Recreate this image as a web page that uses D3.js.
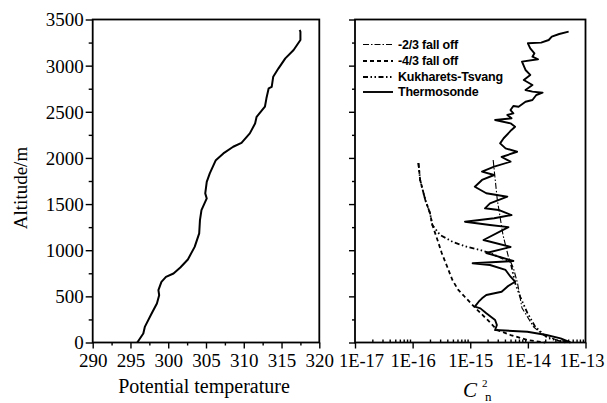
<!DOCTYPE html>
<html><head><meta charset="utf-8">
<script src="https://cdn.jsdelivr.net/npm/d3@7"></script>
<style>body{margin:0;background:#fff}svg{display:block}</style>
</head><body><svg id="c" width="607" height="403"></svg>
<script>
// ---------- DATA ----------
// Left panel: potential temperature (K) vs altitude (m)
const thetaValues = [295.9,296.7,296.9,297.8,298.5,298.8,298.7,299.1,299.7,300.7,301.6,302.6,303.5,304.1,304.2,304.4,305.1,304.9,305.1,305.5,306.3,307.3,308.6,309.7,310.8,311.5,311.7,312.8,313.0,313.3,313.7,313.9,314.6,315.5,316.6,317.5,317.5,317.4];
const thetaAlts   = [0,97,169,314,423,513,567,657,711,748,813,900,1036,1182,1326,1434,1561,1616,1741,1832,1976,2049,2121,2164,2266,2374,2446,2555,2646,2754,2771,2880,2971,3079,3169,3278,3368,3386];

// Right panel: Cn^2 profiles
const sondeCn2 = [5.1e-14,3.5e-14,2.6e-14,2.3e-14,1.7e-14,1.0e-14,1.1e-14,1.3e-14,1.2e-14,1.5e-14,7.9e-15,9.1e-15,1.1e-14,8.5e-15,1.2e-14,9.1e-15,1.2e-14,1.8e-14,1.4e-14,1.2e-14,9.1e-15,6.9e-15,5.6e-15,5.0e-15,5.6e-15,4.4e-15,5.2e-15,2.7e-15,5.0e-15,6.0e-15,5.2e-15,3.8e-15,3.3e-15,4.1e-15,6.5e-15,3.5e-15,5.0e-15,2.6e-15,1.6e-15,2.6e-15,1.6e-15,1.2e-15,1.9e-15,4.4e-15,2.2e-15,1.8e-15,3.1e-15,5.2e-15,2.6e-15,8.1e-16,2.2e-15,4.6e-15,1.7e-15,5.0e-15,1.9e-15,5.6e-15,1.1e-15,2.2e-15,4.1e-15,5.0e-15,6.0e-15,4.4e-15,3.5e-15,1.9e-15,1.6e-15,1.4e-15,1.2e-15,1.5e-15,1.9e-15,2.7e-15,2.9e-15,2.7e-15,9.8e-15,2.1e-14,3.7e-14,5.5e-14];
const sondeAlts = [3368,3343,3314,3278,3249,3242,3188,3134,3097,3069,3043,2953,2899,2844,2790,2736,2718,2707,2682,2628,2609,2555,2563,2519,2483,2465,2429,2411,2375,2338,2303,2213,2158,2104,2067,2010,1959,1905,1851,1815,1761,1688,1617,1580,1508,1454,1436,1381,1346,1309,1273,1250,1111,1035,970,883,858,840,786,713,659,605,550,515,479,442,388,370,316,244,190,135,117,81,45,0];

const fall23Cn2  = [2.5e-15,2.95e-15,3.7e-15,4.6e-15,5.6e-15,6.6e-15,7.9e-15,1.26e-14,1.86e-14,3.2e-14,5.5e-14];
const fall23Alts = [1977,1544,1165,926,807,645,374,168,81,27,0];

const fall43Cn2  = [1.26e-16,1.35e-16,1.66e-16,2.0e-16,2.2e-16,2.7e-16,3.2e-16,4.0e-16,4.9e-16,6.2e-16,8.1e-16,1.23e-15,2.0e-15,2.95e-15,5.0e-15,9.8e-15,2.0e-14];
const fall43Alts = [1945,1761,1544,1403,1273,1111,970,818,677,569,493,374,244,135,81,27,0];

const ktCn2  = [1.26e-16,1.35e-16,1.66e-16,2.0e-16,2.2e-16,3.0e-16,5.0e-16,8.9e-16,1.48e-15,2.2e-15,5.0e-15,6.0e-15,7.4e-15,9.8e-15,1.35e-14,2.2e-14,4.5e-14];
const ktAlts = [1945,1761,1544,1403,1273,1165,1089,1035,1002,970,872,645,493,320,168,49,0];

const thetaTicks = [290,295,300,305,310,315,320];
const altTicks = [0,500,1000,1500,2000,2500,3000,3500];
const cn2Ticks = [1e-17,1e-16,1e-15,1e-14,1e-13];
const legendLabels = ["-2/3 fall off","-4/3 fall off","Kukharets-Tsvang","Thermosonde"];

// ---------- DRAW ----------
const svg = d3.select("#c");
svg.append("rect").attr("width",607).attr("height",403).attr("fill","#fff");
const serif = "'Liberation Serif','Times New Roman',serif";

const yScale = d3.scaleLinear().domain([0,3500]).range([342.5,19.5]);
const xL = d3.scaleLinear().domain([290,320]).range([92.7,319.3]);
const xR = d3.scaleLog().domain([1e-17,1e-13]).range([355,585.5]);

function styleAxis(g, fs){
  g.select(".domain").remove();
  g.selectAll(".tick line").attr("stroke","#000").attr("stroke-width",1.4);
  g.selectAll("text").attr("font-family",serif).attr("font-size",fs).attr("fill","#000");
}

// Left panel axes
const gLy = svg.append("g").attr("transform","translate(92.7,0)")
  .call(d3.axisLeft(yScale).tickValues(altTicks).tickSize(7).tickPadding(2).tickFormat(d3.format("d")));
styleAxis(gLy,19);
gLy.selectAll("text").attr("dy","0.34em");
const gLym = svg.append("g").attr("transform","translate(92.7,0)")
  .call(d3.axisLeft(yScale).tickValues(d3.range(250,3500,500)).tickSize(4).tickFormat(""));
styleAxis(gLym,19);

const gLx = svg.append("g").attr("transform","translate(0,342.5)")
  .call(d3.axisBottom(xL).tickValues(thetaTicks).tickSize(6).tickPadding(5).tickFormat(d3.format("d")));
styleAxis(gLx,19);
const gLxm = svg.append("g").attr("transform","translate(0,342.5)")
  .call(d3.axisBottom(xL).tickValues(d3.range(292.5,320,5)).tickSize(3).tickFormat(""));
styleAxis(gLxm,19);

svg.append("rect").attr("x",92.7).attr("y",19.5).attr("width",319.3-92.7).attr("height",323)
  .attr("fill","none").attr("stroke","#000").attr("stroke-width",1.8);

svg.append("path")
  .datum(d3.zip(thetaValues,thetaAlts))
  .attr("fill","none").attr("stroke","#000").attr("stroke-width",2).attr("stroke-linejoin","round")
  .attr("d", d3.line().x(d=>xL(d[0])).y(d=>yScale(d[1])));

// Right panel axes
const gRy = svg.append("g").attr("transform","translate(355,0)")
  .call(d3.axisLeft(yScale).tickValues(altTicks).tickSize(6).tickFormat(""));
styleAxis(gRy,19);
const gRym = svg.append("g").attr("transform","translate(355,0)")
  .call(d3.axisLeft(yScale).tickValues(d3.range(250,3500,500)).tickSize(3).tickFormat(""));
styleAxis(gRym,19);

const gRx = svg.append("g").attr("transform","translate(0,342.5)")
  .call(d3.axisBottom(xR).tickValues(cn2Ticks).tickSize(6).tickPadding(5)
    .tickFormat(d => "1E" + Math.round(Math.log10(d))));
styleAxis(gRx,18.5);
gRx.selectAll("text").filter((d,i)=>i===0).attr("dx",6);
gRx.selectAll("text").filter((d,i)=>i===4).attr("dx",-4);
const minorLog = xR.ticks().filter(v => Math.abs(Math.log10(v)-Math.round(Math.log10(v)))>1e-6);
const gRxm = svg.append("g").attr("transform","translate(0,342.5)")
  .call(d3.axisBottom(xR).tickValues(minorLog).tickSize(-3).tickFormat(""));
styleAxis(gRxm,18);

svg.append("rect").attr("x",355).attr("y",19.5).attr("width",585.5-355).attr("height",323)
  .attr("fill","none").attr("stroke","#000").attr("stroke-width",1.8);

const lineR = d3.line().x(d=>xR(d[0])).y(d=>yScale(d[1]));
const seriesDefs = [
  {cn:fall23Cn2, alt:fall23Alts, dash:"6,2,1.5,2", w:1.1},
  {cn:fall43Cn2, alt:fall43Alts, dash:"4,3", w:1.8},
  {cn:ktCn2, alt:ktAlts, dash:"5,2.5,1.5,2.5,1.5,2.5", w:1.8},
  {cn:sondeCn2, alt:sondeAlts, dash:null, w:1.9}
];
seriesDefs.forEach(s=>{
  svg.append("path").datum(d3.zip(s.cn,s.alt))
    .attr("fill","none").attr("stroke","#000").attr("stroke-width",s.w)
    .attr("stroke-linejoin","round")
    .attr("stroke-dasharray",s.dash)
    .attr("d",lineR);
});

// Legend
const legY = [44.5,61,77,92];
legendLabels.forEach((lab,i)=>{
  const s = seriesDefs[i];
  svg.append("line").attr("x1",363).attr("x2",393).attr("y1",legY[i]).attr("y2",legY[i])
    .attr("stroke","#000").attr("stroke-width",s.w).attr("stroke-dasharray",s.dash);
  svg.append("text").attr("x",398).attr("y",legY[i]+4)
    .attr("font-family","'Liberation Sans',Arial,sans-serif").attr("font-weight","bold")
    .attr("font-size",12.5).attr("letter-spacing","-0.2").text(lab);
});

// Axis titles
svg.append("text").attr("transform","translate(27,188) rotate(-90)")
  .attr("text-anchor","middle").attr("font-family",serif).attr("font-size",19).text("Altitude/m");
svg.append("text").attr("x",204).attr("y",393).attr("text-anchor","middle")
  .attr("font-family",serif).attr("font-size",20).text("Potential temperature");
svg.append("text").attr("x",463).attr("y",397).attr("font-family",serif)
  .attr("font-style","italic").attr("font-size",21).text("C");
svg.append("text").attr("x",482).attr("y",387).attr("font-family",serif)
  .attr("font-size",11).text("2");
svg.append("text").attr("x",485).attr("y",401).attr("font-family",serif)
  .attr("font-size",13).text("n");
</script></body></html>
